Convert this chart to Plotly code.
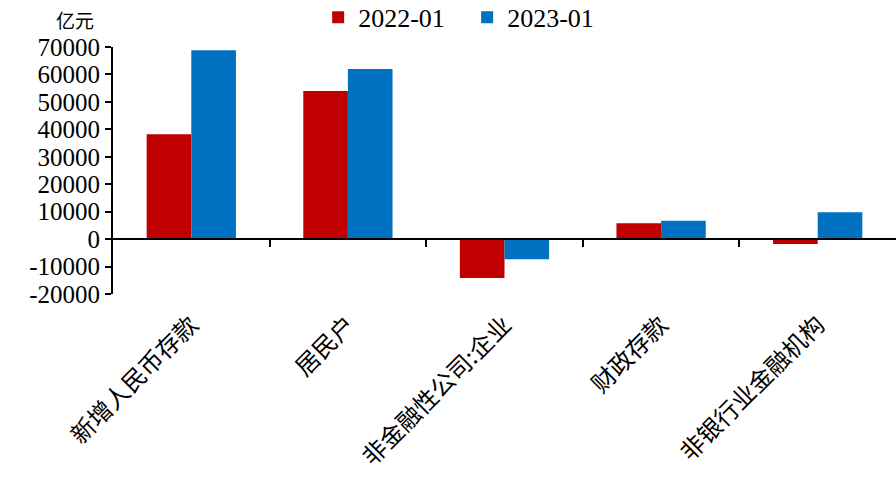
import plotly.graph_objects as go

categories = ["新增人民币存款", "居民户", "非金融性公司:企业", "财政存款", "非银行业金融机构"]
series_names = ["2022-01", "2023-01"]
values_2022 = [38200, 54000, -14200, 5800, -1800]
values_2023 = [68800, 62000, -7300, 6700, 9800]
y_ticks = [-20000, -10000, 0, 10000, 20000, 30000, 40000, 50000, 60000, 70000]
colors = ["#C00000", "#0070C0"]

W, H = 896, 479
ml, mr, mt, mb = 113, 0, 47, 185
y_min, y_max = -20000, 70000

fig = go.Figure()
for name, vals, c in zip(series_names, [values_2022, values_2023], colors):
    fig.add_trace(go.Bar(x=categories, y=vals, name=name,
                         marker=dict(color=c, line=dict(width=0))))

zero_pos = (0 - y_min) / (y_max - y_min)
serif = "Liberation Serif"
cjk = "Noto Sans CJK SC"
plot_h = H - mt - mb

fig.update_layout(
    width=W, height=H,
    margin=dict(l=ml, r=mr, t=mt, b=mb, pad=0, autoexpand=False),
    plot_bgcolor="white", paper_bgcolor="white",
    barmode="group", bargap=0.43, bargroupgap=0,
    showlegend=True,
    legend=dict(orientation="h", x=0.262, xanchor="left", y=1.215, yanchor="top",
                font=dict(family=serif, size=26, color="black"),
                itemwidth=30, entrywidth=104, traceorder="normal",
                bgcolor="rgba(0,0,0,0)"),
    xaxis=dict(type="category", categoryorder="array", categoryarray=categories,
               range=[-0.5, 4.5], showline=False, ticks="", showgrid=False,
               tickangle=-45, ticklabelstandoff=11, automargin=False,
               tickfont=dict(family=cjk, size=24, color="black"),
               zeroline=False),
    xaxis2=dict(overlaying="x", anchor="free", position=zero_pos, type="linear",
                range=[-0.5, 4.5], showline=True, linecolor="black", linewidth=2,
                ticks="outside", ticklen=7, tickwidth=2, tickcolor="black",
                tickmode="array", tickvals=[0.5, 1.5, 2.5, 3.5], automargin=False,
                showticklabels=False, showgrid=False, zeroline=False),
    yaxis=dict(range=[y_min, y_max], tickmode="array", tickvals=y_ticks,
               ticktext=[str(v) for v in y_ticks], automargin=False,
               showline=True, linecolor="black", linewidth=2,
               ticks="outside", ticklen=6, tickwidth=2, tickcolor="black",
               showgrid=False, zeroline=False,
               tickfont=dict(family=serif, size=25, color="black")),
    annotations=[dict(text="亿元", xref="paper", yref="paper",
                      x=-(113 - 75) / (W - ml), y=1 + (47 - 20) / plot_h,
                      xanchor="center", yanchor="middle", showarrow=False,
                      font=dict(family=cjk, size=19, color="black"))],
)
# invisible trace to activate the zero-line category axis
fig.add_trace(go.Scatter(x=[0], y=[0], xaxis="x2", yaxis="y", mode="markers",
                         marker=dict(opacity=0), showlegend=False, hoverinfo="skip"))

fig.write_html("out.html")
